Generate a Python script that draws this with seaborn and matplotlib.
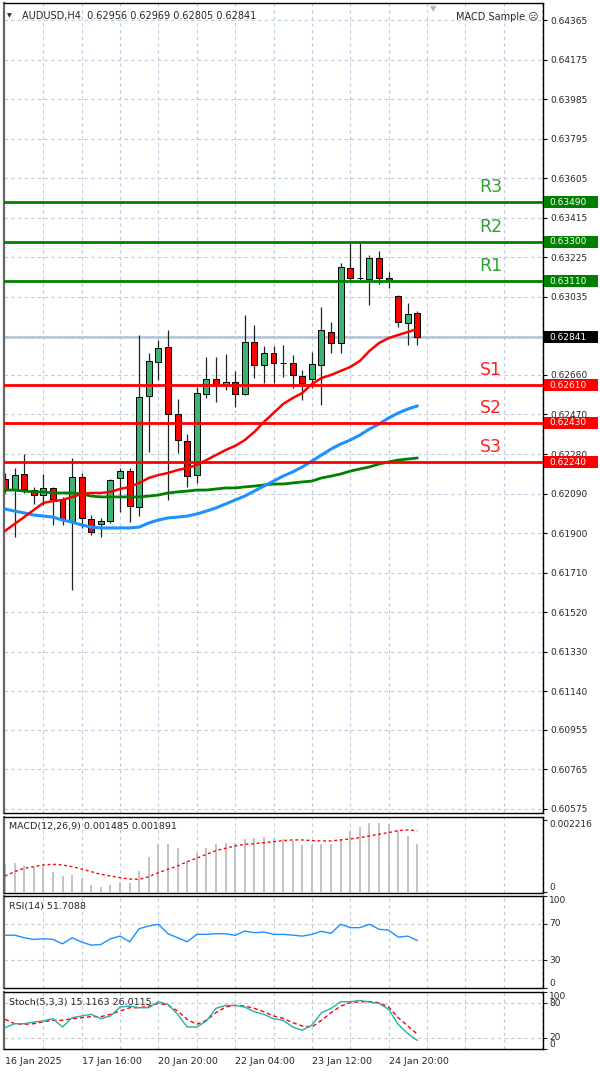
import numpy as np
import pandas as pd
import matplotlib
matplotlib.use("Agg")
import matplotlib.pyplot as plt
import matplotlib.patches as mpatches
import seaborn as sns

sns.set_style("white")
plt.rcParams["font.family"] = ["DejaVu Sans"]

# --- AUDUSD H4 candles
opens = [0.62160, 0.62112, 0.62184, 0.62107, 0.62083, 0.62117, 0.62064, 0.61958, 0.62170, 0.61968,
         0.61944, 0.61958, 0.62165, 0.62198, 0.62026, 0.62559, 0.62722, 0.62794, 0.62472, 0.62343,
         0.62179, 0.62568, 0.62640, 0.62612, 0.62626, 0.62568, 0.62818, 0.62708, 0.62765, 0.62717,
         0.62717, 0.62655, 0.62640, 0.62708, 0.62866, 0.62813, 0.63174, 0.63126, 0.63121, 0.63222,
         0.63126, 0.63039, 0.62909, 0.62956]
highs = [0.62189, 0.62213, 0.62280, 0.62122, 0.62184, 0.62122, 0.62074, 0.62261, 0.62189, 0.61987,
         0.61973, 0.62160, 0.62213, 0.62213, 0.62852, 0.62765, 0.62828, 0.62876, 0.62544, 0.62376,
         0.62602, 0.62746, 0.62746, 0.62761, 0.62679, 0.62948, 0.62900, 0.62799, 0.62799, 0.62804,
         0.62756, 0.62684, 0.62770, 0.62986, 0.62914, 0.63198, 0.63294, 0.63294, 0.63236, 0.63255,
         0.63154, 0.63043, 0.63006, 0.62969]
lows = [0.62093, 0.61881, 0.62093, 0.62040, 0.62035, 0.61939, 0.61939, 0.61627, 0.61925, 0.61891,
        0.61881, 0.61949, 0.62002, 0.61953, 0.61982, 0.62290, 0.62636, 0.62059, 0.62285, 0.62122,
        0.62141, 0.62549, 0.62530, 0.62588, 0.62506, 0.62563, 0.62645, 0.62621, 0.62621, 0.62650,
        0.62597, 0.62540, 0.62597, 0.62516, 0.62765, 0.62765, 0.63116, 0.63116, 0.62996, 0.63097,
        0.63078, 0.62890, 0.62804, 0.62805]
closes = [0.62112, 0.62179, 0.62112, 0.62083, 0.62117, 0.62064, 0.61963, 0.62170, 0.61973, 0.61905,
          0.61958, 0.62155, 0.62198, 0.62030, 0.62554, 0.62727, 0.62789, 0.62472, 0.62347, 0.62174,
          0.62573, 0.62640, 0.62612, 0.62626, 0.62568, 0.62818, 0.62708, 0.62765, 0.62717, 0.62715,
          0.62660, 0.62621, 0.62712, 0.62876, 0.62813, 0.63178, 0.63126, 0.63124, 0.63222, 0.63126,
          0.63111, 0.62914, 0.62953, 0.62841]

# moving averages
ma_fast = [0.61910, 0.61944, 0.61977, 0.62011, 0.62045, 0.62054, 0.62059, 0.62074, 0.62088, 0.62093,
           0.62093, 0.62098, 0.62112, 0.62122, 0.62141, 0.62165, 0.62179, 0.62189, 0.62203, 0.62213,
           0.62227, 0.62251, 0.62275, 0.62299, 0.62319, 0.62347, 0.62386, 0.62434, 0.62477, 0.62520,
           0.62549, 0.62573, 0.62616, 0.62645, 0.62660, 0.62679, 0.62698, 0.62727, 0.62775, 0.62813,
           0.62837, 0.62852, 0.62866, 0.62881]
ma_mid = [0.62016, 0.62006, 0.61997, 0.61987, 0.61982, 0.61977, 0.61963, 0.61953, 0.61939, 0.61929,
          0.61925, 0.61925, 0.61925, 0.61925, 0.61929, 0.61949, 0.61963, 0.61973, 0.61977, 0.61982,
          0.61992, 0.62006, 0.62021, 0.62040, 0.62059, 0.62078, 0.62102, 0.62126, 0.62150, 0.62174,
          0.62194, 0.62218, 0.62246, 0.62275, 0.62304, 0.62328, 0.62347, 0.62371, 0.62400, 0.62424,
          0.62453, 0.62477, 0.62496, 0.62511]
ma_slow = [0.62107, 0.62107, 0.62102, 0.62098, 0.62098, 0.62093, 0.62093, 0.62093, 0.62088, 0.62078,
           0.62074, 0.62074, 0.62074, 0.62074, 0.62074, 0.62078, 0.62083, 0.62093, 0.62098, 0.62102,
           0.62107, 0.62107, 0.62112, 0.62117, 0.62117, 0.62122, 0.62126, 0.62131, 0.62136, 0.62136,
           0.62141, 0.62146, 0.62150, 0.62165, 0.62174, 0.62184, 0.62198, 0.62208, 0.62218, 0.62232,
           0.62242, 0.62251, 0.62256, 0.62261]

# indicators
macd_hist = [0.000852, 0.000902, 0.000799, 0.000759, 0.000778, 0.000622, 0.000488, 0.000519, 0.000386, 0.000208,
             0.000137, 0.000208, 0.000311, 0.000261, 0.000653, 0.001070, 0.001483, 0.001483, 0.001368, 0.000964,
             0.001194, 0.001368, 0.001474, 0.001505, 0.001505, 0.001648, 0.001679, 0.001711, 0.001630, 0.001630,
             0.001577, 0.001452, 0.001452, 0.001474, 0.001474, 0.001630, 0.001878, 0.002003, 0.002146, 0.002146,
             0.002096, 0.001919, 0.001732, 0.001485]
macd_signal = [0.000488, 0.000622, 0.000728, 0.000778, 0.000830, 0.000852, 0.000830, 0.000778, 0.000706, 0.000622,
               0.000541, 0.000488, 0.000435, 0.000395, 0.000386, 0.000467, 0.000591, 0.000697, 0.000799, 0.000933,
               0.001039, 0.001163, 0.001275, 0.001350, 0.001421, 0.001474, 0.001493, 0.001524, 0.001555, 0.001586,
               0.001608, 0.001608, 0.001586, 0.001577, 0.001577, 0.001608, 0.001639, 0.001679, 0.001732, 0.001785,
               0.001835, 0.001897, 0.001919, 0.001891]
rsi = [57.2, 57.5, 54.6, 52.8, 53.5, 52.8, 48.0, 54.6, 49.9, 46.6,
       47.3, 53.5, 56.4, 50.2, 64.5, 67.4, 69.3, 59.0, 54.6, 50.2,
       58.3, 58.3, 59.0, 59.0, 57.2, 61.9, 60.1, 60.8, 58.3, 58.3,
       57.5, 56.4, 58.3, 61.6, 59.4, 69.3, 65.6, 65.6, 69.3, 63.8,
       63.0, 55.3, 56.4, 51.7]
stoch_k = [37.5, 44.4, 44.4, 47.4, 49.1, 53.2, 38.6, 54.9, 57.9, 60.8,
           53.2, 57.9, 73.6, 75.3, 72.4, 72.4, 82.9, 78.3, 60.8, 38.6,
           38.6, 49.1, 71.3, 76.5, 76.5, 73.6, 65.4, 60.8, 53.2, 50.3,
           38.6, 32.8, 42.1, 63.7, 71.3, 82.9, 82.9, 85.2, 82.3, 80.0,
           69.5, 43.3, 27.0, 15.1]
stoch_d = [52.0, 44.4, 43.3, 44.4, 47.9, 50.3, 50.3, 53.2, 54.9, 56.7,
           56.7, 60.8, 66.6, 72.4, 72.4, 75.3, 80.0, 77.1, 66.6, 52.0,
           43.3, 50.3, 63.7, 73.6, 76.5, 75.3, 71.3, 65.4, 57.9, 53.8,
           46.2, 40.4, 38.6, 50.3, 63.7, 75.3, 81.2, 82.9, 82.9, 81.2,
           73.6, 54.9, 40.4, 26.0]

# pivot levels
r_levels = [0.63110, 0.63300, 0.63490]
r_names = ["R1", "R2", "R3"]
s_levels = [0.62610, 0.62430, 0.62240]
s_names = ["S1", "S2", "S3"]
last_price = 0.62841

price_ticks = [0.64365, 0.64175, 0.63985, 0.63795, 0.63605, 0.63415, 0.63225, 0.63035, 0.62845,
               0.62660, 0.62470, 0.62280, 0.62090, 0.61900, 0.61710, 0.61520, 0.61330, 0.61140,
               0.60955, 0.60765, 0.60575]
date_pos = [0, 8, 16, 24, 32, 40]
date_labels = ["16 Jan 2025", "17 Jan 16:00", "20 Jan 20:00", "22 Jan 04:00", "23 Jan 12:00", "24 Jan 20:00"]

df = pd.DataFrame({"open": opens, "high": highs, "low": lows, "close": closes,
                   "ma_fast": ma_fast, "ma_mid": ma_mid, "ma_slow": ma_slow,
                   "hist": macd_hist, "signal": macd_signal, "rsi": rsi,
                   "k": stoch_k, "d": stoch_d})
df["bar"] = np.arange(len(df))

W, H = 600, 1075
fig = plt.figure(figsize=(W / 100, H / 100), dpi=100)


def box(x0, y0, x1, y1):
    return [x0 / W, 1 - y1 / H, (x1 - x0) / W, (y1 - y0) / H]


ax = fig.add_axes(box(4, 3, 543, 813))
ax_macd = fig.add_axes(box(4, 817, 543, 893))
ax_rsi = fig.add_axes(box(4, 896, 543, 988))
ax_st = fig.add_axes(box(4, 992, 543, 1049))
panels = [ax, ax_macd, ax_rsi, ax_st]

GRID = "#bccbdd"
XMAX = 56.1
for a in panels:
    a.set_xlim(-0.1, XMAX)
    for gx in range(4, 57, 4):
        a.axvline(gx, color=GRID, lw=0.8, ls=(0, (3, 3)), zorder=0)
    for s in a.spines.values():
        s.set_color("black")
        s.set_linewidth(1)
    a.spines["left"].set_color("#666666")
    a.spines["left"].set_linewidth(1.6)

# --- main price panel
ax.set_ylim(0.605555, 0.644467)
for p in price_ticks:
    ax.axhline(p, color=GRID, lw=0.8, ls=(0, (3, 3)), zorder=0)
ax.axhline(last_price, color="#b4c4d8", lw=1.8, zorder=1)

up = df["close"] >= df["open"]
ax.vlines(df["bar"], df["low"], df["high"], color="#222222", lw=0.9, zorder=2)
body = (df["close"] - df["open"]).abs().clip(lower=0.00002)
ax.bar(df["bar"], body, bottom=df[["open", "close"]].min(axis=1), width=0.62,
       color=np.where(up, "#3cb371", "#ff0000"), edgecolor="black", linewidth=0.7, zorder=2)

sns.lineplot(data=df, x="bar", y="ma_slow", ax=ax, color="#008000", lw=2, zorder=3)
sns.lineplot(data=df, x="bar", y="ma_mid", ax=ax, color="#1e90ff", lw=2.2, zorder=3)
sns.lineplot(data=df, x="bar", y="ma_fast", ax=ax, color="#ff0000", lw=1.8, zorder=3)

px = 4.804e-5  # price per pixel
ytr = ax.get_yaxis_transform()
for lvl, name in zip(r_levels, r_names):
    ax.axhline(lvl, color="#008000", lw=2, zorder=4)
    ax.text(50.7, lvl + 15 * px, name, color="#32a032", fontsize=12.5, ha="center", va="center", zorder=5)
for lvl, name in zip(s_levels, s_names):
    ax.axhline(lvl, color="#ff0000", lw=2, zorder=4)
    ax.text(50.7, lvl + 15 * px, name, color="#ff2020", fontsize=12.5, ha="center", va="center", zorder=5)

ax.set_xticks([])
ax.yaxis.tick_right()
ax.set_yticks(price_ticks)
ax.set_yticklabels(["" if abs(p - 0.62845) < 1e-7 else f"{p:.5f}" for p in price_ticks])
ax.tick_params(axis="y", length=3, width=0.8, labelsize=6.5, pad=2, color="black")

tag_levels = r_levels + s_levels + [last_price]
tag_colors = ["#008000"] * 3 + ["#ff0000"] * 3 + ["black"]
for lvl, c in zip(tag_levels, tag_colors):
    ax.add_patch(mpatches.Rectangle((1 + 1 / 539, lvl - 6 * px), 54 / 539, 12 * px, transform=ytr,
                                    facecolor=c, edgecolor="none", clip_on=False, zorder=6))
    ax.text(1 + 6 / 539, lvl, f"{lvl:.5f}", transform=ytr, color="white", fontsize=6.5,
            ha="left", va="center", clip_on=False, zorder=7)

# --- MACD
ax_macd.set_ylim(-0.00004, 0.00232)
ax_macd.vlines(df["bar"], 0, df["hist"], color="#bdbdbd", lw=1.3, zorder=2)
sns.lineplot(data=df, x="bar", y="signal", ax=ax_macd, color="#ff0000", lw=1, ls=(0, (2, 2)), zorder=3)
ax_macd.set_xticks([])
ax_macd.yaxis.tick_right()
ax_macd.set_yticks([0.002216, 0])
ax_macd.set_yticklabels([])
ax_macd.tick_params(axis="y", length=3, width=0.8)
mtr = ax_macd.get_yaxis_transform()
ax_macd.text(1 + 6 / 539, 0.002216, "0.002216", transform=mtr, fontsize=6.5, ha="left", va="top")
ax_macd.text(1 + 6 / 539, 0, "0", transform=mtr, fontsize=6.5, ha="left", va="bottom")
ax_macd.text(0.009, 0.93, "MACD(12,26,9) 0.001485 0.001891", transform=ax_macd.transAxes,
             fontsize=6.8, ha="left", va="top")

# --- RSI
ax_rsi.set_ylim(0, 100)
for lvl in [70, 30]:
    ax_rsi.axhline(lvl, color="#c8c8c8", lw=0.8, ls=(0, (3, 3)), zorder=1)
sns.lineplot(data=df, x="bar", y="rsi", ax=ax_rsi, color="#1e90ff", lw=1, zorder=3)
ax_rsi.set_xticks([])
ax_rsi.yaxis.tick_right()
ax_rsi.set_yticks([100, 70, 30, 0])
ax_rsi.set_yticklabels([])
ax_rsi.tick_params(axis="y", length=3, width=0.8)
rtr = ax_rsi.get_yaxis_transform()
ax_rsi.text(1 + 6 / 539, 100, "100", transform=rtr, fontsize=6.5, ha="left", va="top")
ax_rsi.text(1 + 6 / 539, 70, "70", transform=rtr, fontsize=6.5, ha="left", va="center")
ax_rsi.text(1 + 6 / 539, 30, "30", transform=rtr, fontsize=6.5, ha="left", va="center")
ax_rsi.text(1 + 6 / 539, 0, "0", transform=rtr, fontsize=6.5, ha="left", va="bottom")
ax_rsi.text(0.009, 0.93, "RSI(14) 51.7088", transform=ax_rsi.transAxes,
            fontsize=6.8, ha="left", va="top")

# --- Stochastic
ax_st.set_ylim(0, 100)
for lvl in [80, 20]:
    ax_st.axhline(lvl, color="#c8c8c8", lw=0.8, ls=(0, (3, 3)), zorder=1)
sns.lineplot(data=df, x="bar", y="d", ax=ax_st, color="#ff0000", lw=1, ls=(0, (3, 2)), zorder=3)
sns.lineplot(data=df, x="bar", y="k", ax=ax_st, color="#20b2aa", lw=1, zorder=3)
ax_st.yaxis.tick_right()
ax_st.set_yticks([100, 80, 20, 0])
ax_st.set_yticklabels([])
ax_st.tick_params(axis="y", length=3, width=0.8)
stt = ax_st.get_yaxis_transform()
ax_st.text(1 + 6 / 539, 100, "100", transform=stt, fontsize=6.5, ha="left", va="top")
ax_st.text(1 + 6 / 539, 80, "80", transform=stt, fontsize=6.5, ha="left", va="center")
ax_st.text(1 + 6 / 539, 20, "20", transform=stt, fontsize=6.5, ha="left", va="center")
ax_st.text(1 + 6 / 539, 0, "0", transform=stt, fontsize=6.5, ha="left", va="bottom")
ax_st.text(0.009, 0.9, "Stoch(5,3,3) 15.1163 26.0115", transform=ax_st.transAxes,
           fontsize=6.8, ha="left", va="top", zorder=5)
ax_st.set_xticks(date_pos)
ax_st.set_xticklabels(date_labels, ha="left")
ax_st.tick_params(axis="x", length=3, width=0.8, labelsize=6.8, pad=3)

# seaborn sets axis labels from column names; MT4 shows none
for a in panels:
    a.set_xlabel("")
    a.set_ylabel("")

# --- header texts
fig.text(7 / W, 1 - 15.5 / H, "\u25BC", fontsize=4.5, ha="left", va="center")
fig.text(22 / W, 1 - 16 / H, "AUDUSD,H4  0.62956 0.62969 0.62805 0.62841", fontsize=7,
         ha="left", va="center")
fig.text(433 / W, 1 - 9 / H, "\u25BC", fontsize=6, color="#a8b8cc", ha="center", va="center")
fig.text(538 / W, 1 - 17 / H, "MACD Sample \u2639", fontsize=7, ha="right", va="center")

fig.savefig("out.png", dpi=100)
